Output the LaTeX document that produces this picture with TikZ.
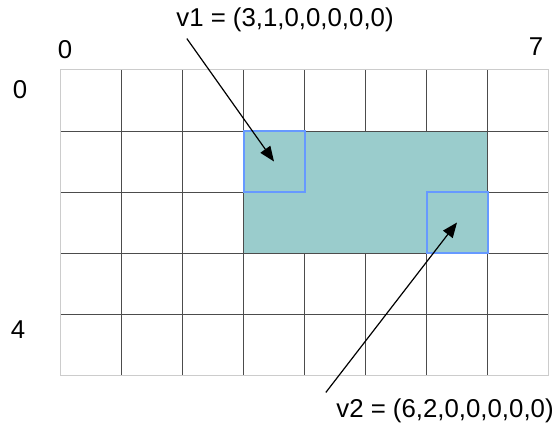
\documentclass[tikz,border=0pt]{standalone}
\usepackage{fontspec}
\setmainfont{Liberation Sans}
\usepackage{tikz}
\usetikzlibrary{arrows.meta, positioning}
\definecolor{cellteal}{RGB}{154, 204, 204}
\definecolor{cellblue}{RGB}{102, 153, 255}

\begin{document}
\begin{tikzpicture}[x=1pt, y=-1pt, every node/.style={font=\fontsize{25.8}{30}\selectfont}]
    % Styles
    \tikzstyle{gridline} = [draw=black!70, line width=0.6pt]
    \tikzstyle{edgeline} = [draw=black!20, line width=1pt]
    \tikzstyle{cell} = [draw=cellblue, line width=2pt, minimum size=61pt, inner sep=0pt]
    \tikzstyle{arrow} = [line width=1.2pt, -{Triangle[length=15pt, width=12pt]}]

    \useasboundingbox (0,0) rectangle (560,428);

    % Grid
    \foreach \i in {1,...,7}
        \draw [gridline] (60+61*\i,70) -- (60+61*\i,375);
    \foreach \j in {1,...,4}
        \draw [gridline] (60,70+61*\j) -- (548,70+61*\j);
    \draw [edgeline] (60,70) rectangle (548,375);

    % Region
    \filldraw [fill=cellteal, draw=black!70, line width=0.6pt] (243,131) rectangle (487,253);

    % Nodes
    \node [cell] (sq1) at (274,161.5) {};
    \node [cell] (sq2) at (457,222.5) {};
    \node (x0) at (65,50) {0};
    \node (x7) at (536,47) {7};
    \node (y0) at (20,90) {0};
    \node (y4) at (18,330) {4};
    \node (v1lbl) at (285,20) {v1 = (3,1,0,0,0,0,0)};
    \node (v2lbl) at (445,411) {v2 = (6,2,0,0,0,0,0)};

    % Arrows
    \draw [arrow] ([xshift=14pt, yshift=-3pt]v1lbl.south west) -- (sq1.center);
    \draw [arrow] ([xshift=-7pt, yshift=3pt]v2lbl.north west) -- (sq2.center);
\end{tikzpicture}
\end{document}
